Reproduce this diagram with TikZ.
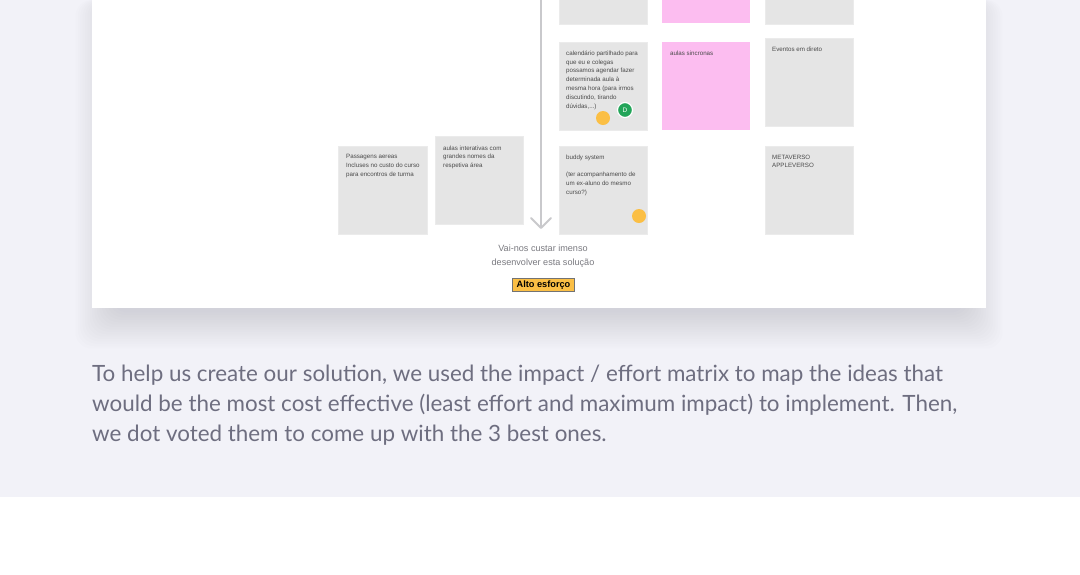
\documentclass[tikz,border=0pt]{standalone}
\usepackage{fontspec}
\setmainfont{Lato}
\newfontfamily\notefont{Liberation Sans}
\definecolor{pagebg}{HTML}{F2F2F8}
\definecolor{notegray}{HTML}{E5E5E5}
\definecolor{notepink}{HTML}{FCBDF0}
\definecolor{dotyellow}{HTML}{FBBF45}
\definecolor{dotgreen}{HTML}{23A559}
\definecolor{axisgray}{HTML}{C9C9CC}
\definecolor{notetext}{HTML}{4A4A4A}
\definecolor{captext}{HTML}{7A7A80}
\definecolor{paratext}{HTML}{6E6E80}
\definecolor{shadowc}{HTML}{8C8CAA}
\tikzset{
  stickynote/.style={fill=#1, draw=black!8, line width=0.3pt},
  notelabel/.style={anchor=north west, inner sep=0pt, align=left, text=notetext,
    font=\notefont\fontsize{6.2}{8.8}\selectfont},
  vote/.style={circle, fill=dotyellow, minimum size=14pt, inner sep=0pt},
}
\begin{document}
\begin{tikzpicture}[x=1pt,y=-1pt]
\useasboundingbox (0,0) rectangle (1080,574);
% backgrounds
\fill[pagebg] (0,0) rectangle (1080,497);
\fill[white] (0,497) rectangle (1080,574);
% card shadow
\foreach \i in {1,...,16}
  \fill[shadowc, opacity=0.02, rounded corners=16pt]
    ({114-\i*2.4},0) rectangle ({964+\i*2.4},{310+\i*2.4});
% card
\fill[white] (92,0) rectangle (986,308);
% axis arrow
\coordinate (axtop) at (541,0);
\coordinate (axbot) at (541,228);
\draw[axisgray, line width=2pt] (axtop) -- (axbot);
\draw[axisgray, line width=2pt, line cap=round, line join=round] (531,218) -- (axbot) -- (551,218);
% top row (cut)
\draw[stickynote=notegray] (559,-2) rectangle (647,24);
\fill[notepink] (662,-2) rectangle (750,23);
\draw[stickynote=notegray] (765,-2) rectangle (853,24);
% row 2
\draw[stickynote=notegray] (559,42) rectangle (647,130);
\node[notelabel] (cal) at (566,50.5) {calendário partilhado para\\que eu e colegas\\possamos agendar fazer\\determinada aula à\\mesma hora (para irmos\\discutindo, tirando\\dúvidas,...)};
\fill[notepink] (662,42) rectangle (750,130);
\node[notelabel] (sync) at (670,50.5) {aulas sincronas};
\draw[stickynote=notegray] (765,38) rectangle (853,126);
\node[notelabel] (evt) at (772,46.5) {Eventos em direto};
% row 3
\draw[stickynote=notegray] (559,146) rectangle (647,234);
\node[notelabel] (buddy) at (566,154.5) {buddy system\\[8.8pt](ter acompanhamento de\\um ex-aluno do mesmo\\curso?)};
\draw[stickynote=notegray] (765,146) rectangle (853,234);
\node[notelabel] (meta) at (772,154.5) {METAVERSO\\APPLEVERSO};
% left notes
\draw[stickynote=notegray] (338,146) rectangle (427,234);
\node[notelabel] (pass) at (346,154.5) {Passagens aereas\\Incluses no custo do curso\\para encontros de turma};
\draw[stickynote=notegray] (435,136) rectangle (523,224);
\node[notelabel] (inter) at (443,145.5) {aulas interativas com\\grandes nomes da\\respetiva área};
% votes
\node[vote] (v1) at (603,118) {};
\node[vote] (v2) at (639,216) {};
\node[circle, fill=dotgreen, draw=white, line width=1.2pt, minimum size=15pt, inner sep=0pt,
  text=white, font=\notefont\fontsize{6.5}{6}\selectfont] (g1) at (625,110) {D};
% caption
\node[text=captext, font=\notefont\fontsize{9.1}{14}\selectfont, align=center, anchor=north] (cap) at (543,241.5) {Vai-nos custar imenso\\desenvolver esta solução};
\node[fill=dotyellow, draw=black!55, line width=0.6pt, inner xsep=4pt, inner ysep=2.5pt,
  font=\notefont\bfseries\fontsize{9.2}{9.5}\selectfont, anchor=center] (alto) at (543.5,285) {Alto esforço};
% paragraph
\node[anchor=north west, inner sep=0pt, align=left, text=paratext,
  font=\fontsize{22.4}{30}\selectfont] (para) at (92,365)
  {To help us create our solution, we used the impact / effort matrix to map the ideas that\\
   would be the most cost effective (least effort and maximum impact) to implement. Then,\\
   we dot voted them to come up with the 3 best ones.};
\end{tikzpicture}
\end{document}
